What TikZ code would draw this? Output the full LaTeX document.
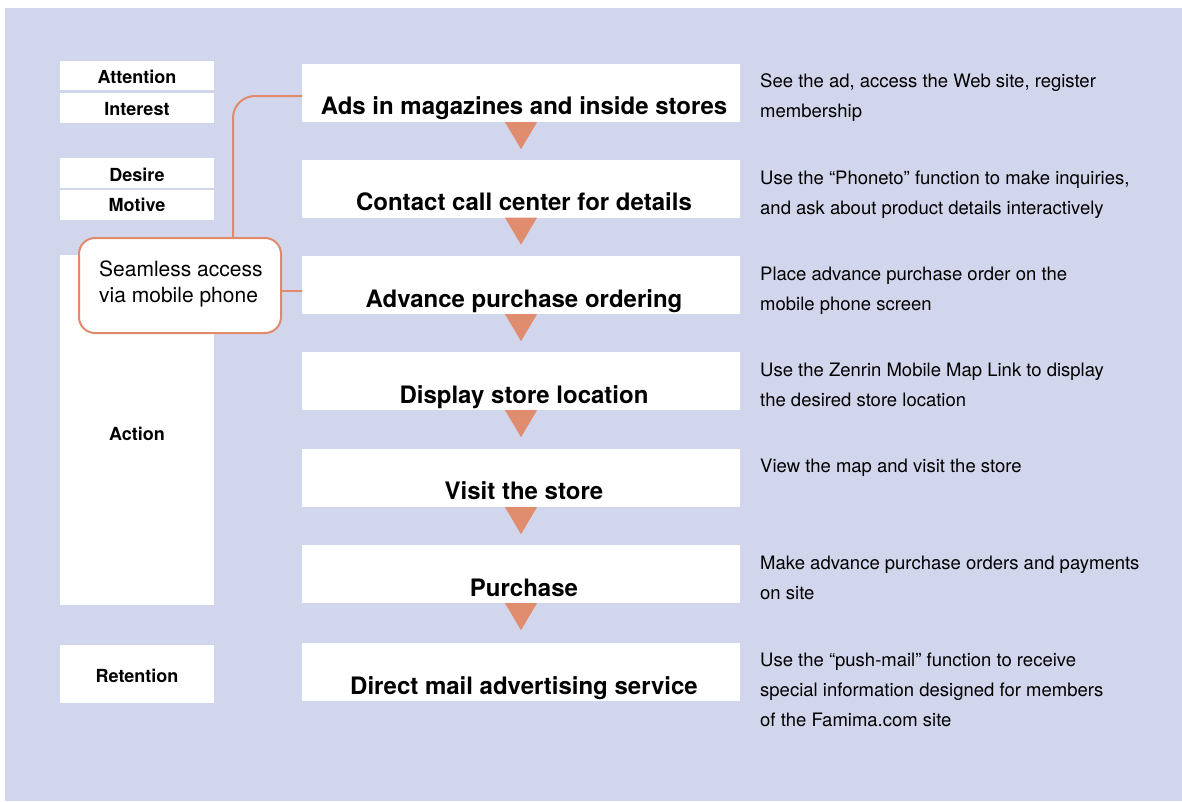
\documentclass[tikz,border=0pt]{standalone}
\usepackage{fontspec}
\setmainfont{TeX Gyre Heros}
\begin{document}
\begin{tikzpicture}[x=1pt,y=-1pt,
  panel/.style={fill=white,draw=none,inner sep=0pt},
  stagebox/.style={panel,minimum width=154pt},
  stepbox/.style={panel,minimum width=438pt,minimum height=58pt},
  steptext/.style={anchor=base,font=\fontsize{24}{28}\selectfont\bfseries,inner sep=0pt},
  stagetext/.style={anchor=base,font=\fontsize{18}{20}\selectfont\bfseries,inner sep=0pt},
  note/.style={anchor=base west,align=left,inner sep=0pt,font=\fontsize{18.5}{30}\selectfont},
  accent/.style={draw=orangeline,line width=2pt},
  tri/.style={fill=orangefill,draw=none}]
\definecolor{bgblue}{HTML}{D2D6EC}
\definecolor{orangeline}{HTML}{E08A6C}
\definecolor{orangefill}{HTML}{E08C6E}
\useasboundingbox (0,0) rectangle (1182,801);
\fill[bgblue] (5,8) rectangle (1182,801);

% stage labels on the left
\node[stagebox,minimum height=29pt] (att) at (137,75.5) {};
\node[stagebox,minimum height=30pt] (int) at (137,108) {};
\node[stagebox,minimum height=30pt] (des) at (137,173) {};
\node[stagebox,minimum height=30pt] (mot) at (137,205) {};
\node[stagebox,minimum height=350pt] (act) at (137,430) {};
\node[stagebox,minimum height=58pt] (ret) at (137,674) {};
\node[stagetext] (attT) at (137,83) {Attention};
\node[stagetext] (intT) at (137,115) {Interest};
\node[stagetext] (desT) at (137,181) {Desire};
\node[stagetext] (motT) at (137,211) {Motive};
\node[stagetext] (actT) at (137,440) {Action};
\node[stagetext] (retT) at (137,682) {Retention};

% process steps
\node[stepbox] (s1) at (521,93) {};
\node[stepbox] (s2) at (521,188.5) {};
\node[stepbox] (s3) at (521,285) {};
\node[stepbox] (s4) at (521,381) {};
\node[stepbox] (s5) at (521,478) {};
\node[stepbox] (s6) at (521,574) {};
\node[stepbox] (s7) at (521,672) {};
\node[steptext] (s1T) at (524,114) {Ads in magazines and inside stores};
\node[steptext] (s2T) at (524,210) {Contact call center for details};
\node[steptext] (s3T) at (524,307) {Advance purchase ordering};
\node[steptext] (s4T) at (524,403) {Display store location};
\node[steptext] (s5T) at (524,499) {Visit the store};
\node[steptext] (s6T) at (524,596) {Purchase};
\node[steptext] (s7T) at (524,694) {Direct mail advertising service};

% downward arrows between steps
\foreach \a in {s1,s2,s3,s4,s5,s6}
  \fill[tri] ([xshift=-16pt]\a.south) -- ([xshift=16pt]\a.south) -- ([yshift=-27pt]\a.south) -- cycle;

% descriptions on the right (base anchor sits on the last line)
\node[note] (d1) at (760,117) {See the ad, access the Web site, register\\membership};
\node[note] (d2) at (760,214) {Use the \char"201C Phoneto\char"201D{} function to make inquiries,\\and ask about product details interactively};
\node[note] (d3) at (760,310) {Place advance purchase order on the\\mobile phone screen};
\node[note] (d4) at (760,406) {Use the Zenrin Mobile Map Link to display\\the desired store location};
\node[note] (d5) at (760,472) {View the map and visit the store};
\node[note] (d6) at (760,599) {Make advance purchase orders and payments\\on site};
\node[note] (d7) at (760,726) {Use the \char"201C push-mail\char"201D{} function to receive\\special information designed for members\\of the Famima.com site};

% callout
\node[accent,fill=white,rounded corners=16pt,minimum width=202pt,minimum height=95pt,inner sep=0pt] (call) at (180,285.5) {};
\node[anchor=base west,align=left,inner sep=0pt,font=\fontsize{21}{26}\selectfont] (callT) at (99,302) {Seamless access\\via mobile phone};
\coordinate (callTop) at (233,238);
\draw[accent,rounded corners=22pt] (callTop) |- (s1.west |- 0,96);
\draw[accent] (call.east |- 0,291) -- (s3.west |- 0,291);
\end{tikzpicture}
\end{document}
